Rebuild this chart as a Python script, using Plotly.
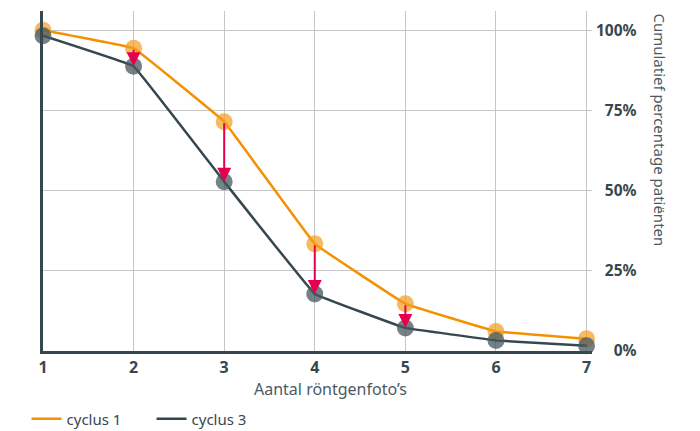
import plotly.graph_objects as go

x_vals = [1, 2, 3, 4, 5, 6, 7]
cyclus1 = [100.0, 94.4, 71.5, 33.4, 14.7, 6.1, 3.8]
cyclus3 = [98.3, 88.8, 52.8, 17.8, 7.2, 3.3, 1.6]
arrow_x = [2, 3, 4, 5]
y_ticks = [0, 25, 50, 75, 100]
y_ticktext = ["\u2007\u20070%", "\u200725%", "\u200750%", "\u200775%", "100%"]
series_names = ["cyclus 1", "cyclus 3"]
x_title = "Aantal röntgenfoto’s"
y_title = "Cumulatief percentage patiënten"

ORANGE = "#f39200"
DARK = "#37474f"
ARROW = "#e5004f"
GRID = "#c6c6c6"
FONT = "Noto Sans"

fig = go.Figure()

fig.add_trace(go.Scatter(
    x=x_vals, y=cyclus1, mode="lines+markers", showlegend=False,
    line=dict(color=ORANGE, width=2.5, shape="spline", smoothing=0.12),
    marker=dict(size=17, color="rgba(243,156,30,0.7)"),
    cliponaxis=False,
))
fig.add_trace(go.Scatter(
    x=x_vals, y=cyclus3, mode="lines+markers", showlegend=False,
    line=dict(color=DARK, width=2.5, shape="spline", smoothing=0.12),
    marker=dict(size=17, color="rgba(70,88,96,0.75)"),
    cliponaxis=False,
))
# legend-only entries (attached to the left helper axis so it gets drawn)
fig.add_trace(go.Scatter(x=[None], y=[None], mode="lines", name=series_names[0],
                         line=dict(color=ORANGE, width=2.5), yaxis="y2"))
fig.add_trace(go.Scatter(x=[None], y=[None], mode="lines", name=series_names[1],
                         line=dict(color=DARK, width=2.5), yaxis="y2"))

for xi in arrow_x:
    i = x_vals.index(xi)
    fig.add_annotation(
        x=xi, y=cyclus3[i], ax=xi, ay=cyclus1[i],
        xref="x", yref="y", axref="x", ayref="y",
        text="", showarrow=True, arrowhead=2, arrowsize=1.4,
        arrowwidth=2, arrowcolor=ARROW, standoff=0, startstandoff=0,
    )

fig.add_annotation(
    text=y_title, textangle=90,
    xref="paper", yref="paper", x=1.124, y=1.0, xanchor="center", yanchor="top",
    showarrow=False, font=dict(family=FONT, size=15, color="#4a5a62"),
)
fig.add_annotation(
    text=x_title, xref="paper", yref="paper", x=0.523, y=-0.113,
    xanchor="center", yanchor="middle", showarrow=False,
    font=dict(family=FONT, size=16, color="#4a5a62"),
)

fig.update_layout(
    width=700, height=431,
    margin=dict(l=43, r=108, t=11, b=80, autoexpand=False),
    plot_bgcolor="white", paper_bgcolor="white",
    font=dict(family=FONT, color=DARK),
    showlegend=True,
    legend=dict(orientation="h", x=-0.03, y=-0.2, xanchor="left", yanchor="middle",
                font=dict(family=FONT, size=15, color=DARK), itemwidth=30,
                entrywidth=80, bgcolor="rgba(0,0,0,0)"),
    xaxis=dict(
        range=[1, 7.06], tickvals=x_vals, ticktext=[str(v) for v in x_vals],
        showgrid=True, gridcolor=GRID, gridwidth=1,
        showline=True, linecolor=DARK, linewidth=2.5,
        zeroline=False, ticks="", automargin=False,
        tickfont=dict(family=FONT, size=16, color=DARK, weight="bold"),
    ),
    yaxis=dict(
        side="right", range=[0, 106], tickvals=y_ticks, ticktext=y_ticktext,
        showgrid=True, gridcolor=GRID, gridwidth=1,
        zeroline=False, showline=False, ticks="", ticklabelstandoff=3,
        automargin=False,
        tickfont=dict(family=FONT, size=15.5, color=DARK, weight="bold"),
    ),
    yaxis2=dict(
        overlaying="y", side="left", range=[0, 106], showgrid=False,
        showticklabels=False, showline=True, linecolor=DARK, linewidth=2.5,
        zeroline=False, ticks="", automargin=False,
    ),
)

fig.write_html("out.html", config={"displayModeBar": False},
               post_script="document.body.style.margin='0';document.body.style.overflow='hidden';")
